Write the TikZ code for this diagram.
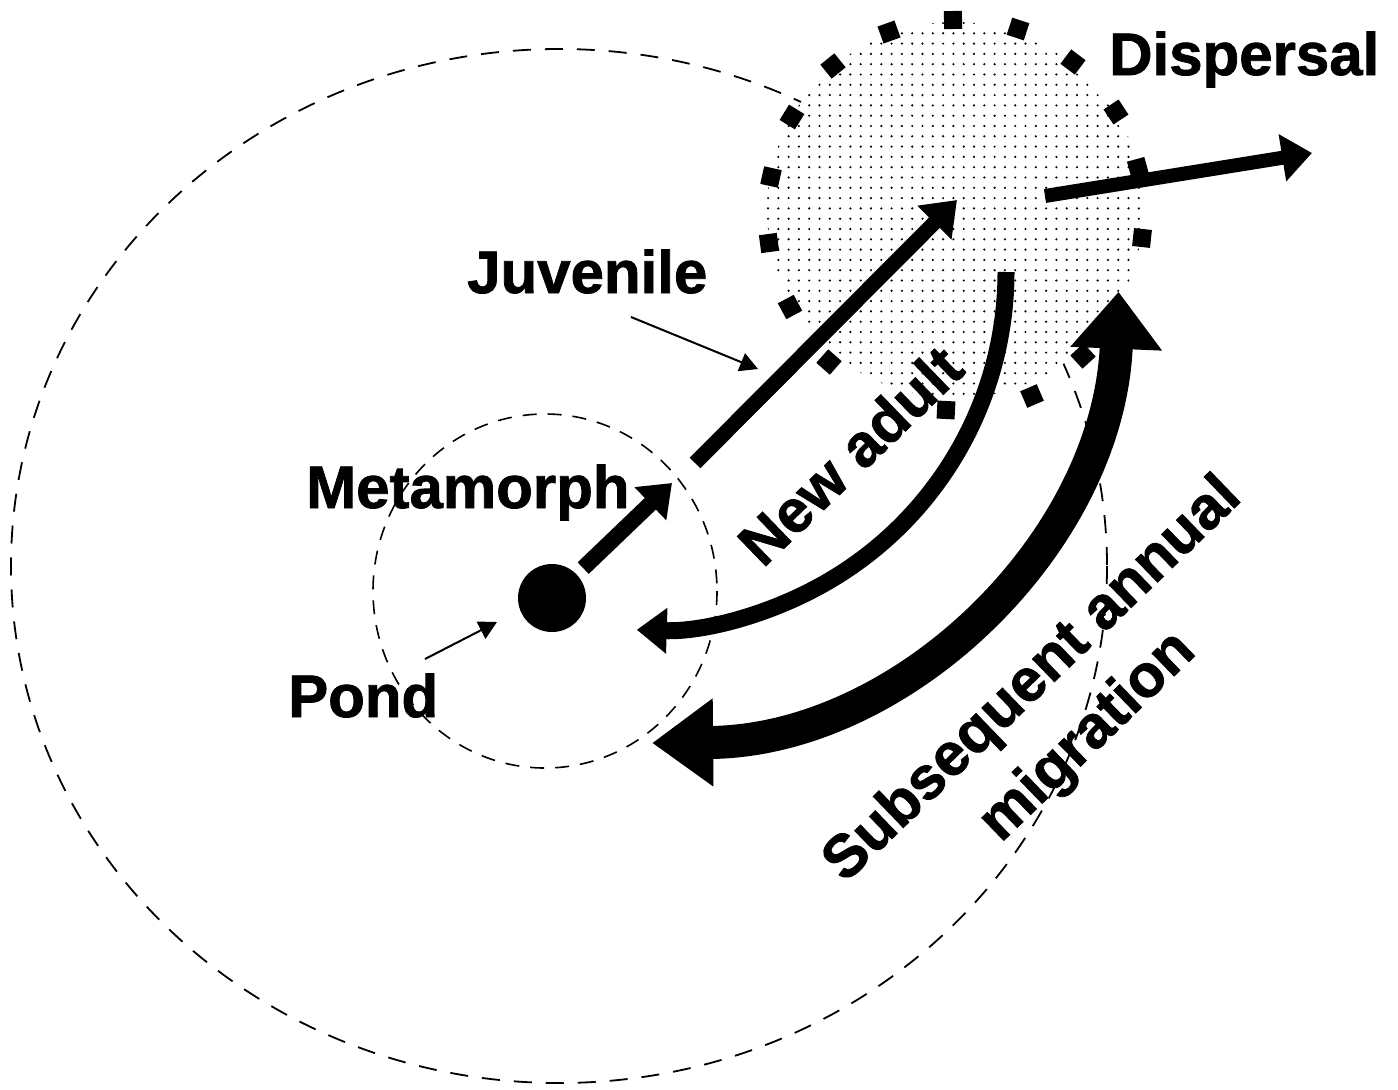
\documentclass[tikz,border=0pt]{standalone}
\usepackage{fontspec}
\setmainfont{Liberation Sans}
\newfontfamily\lblfont{Liberation Sans Bold}[FakeBold=1.3]
\usetikzlibrary{arrows.meta}
\begin{document}
\begin{tikzpicture}[x=1pt,y=-1pt,
  lbl/.style={font=\fontsize{60}{79}\lblfont, inner sep=0pt},
  bigdash/.style={line width=1.8pt, dash pattern=on 18pt off 14pt},
  smalldash/.style={line width=1.6pt, dash pattern=on 14pt off 11pt},
  leader/.style={line width=2pt, -{Triangle[length=18pt,width=19pt]}},
  midarrow/.style={line width=16pt, -{Triangle[length=30pt,width=44pt]}},
  migarrow/.style={line width=33pt, {Triangle[length=61pt,width=84pt]}-{Triangle[length=57pt,width=88pt]}}
]
\useasboundingbox (0,0) rectangle (1398,1090);

% large dashed range
\draw[bigdash] (559,566) ellipse [x radius=548, y radius=517];

% dispersal zone: dotted fill
\begin{scope}
  \clip (955,210) circle [radius=188];
  \fill[white] (760,15) rectangle (1150,405);
  \foreach \i in {0,...,36} {
    \foreach \j in {0,...,36} {
      \fill (768+\i*10.3, 23+\j*10.3) circle [radius=1.2];
    }
  }
\end{scope}
% dispersal zone: square border marks
\foreach \px/\py in {953/20,1018/29,1073/62,1116/112,1138/168,1142/238,1083/356,1032/396,946/410,829/362,790/307,769/243,771/177,792/117,833/66,889/32} {
  \pgfmathsetmacro\ang{atan2(\py-218,\px-956)}
  \fill[rotate around={-\ang:(\px,\py)}] (\px-9,\py-9) rectangle (\px+9,\py+9);
}

% small dashed range
\draw[smalldash] (545,591) ellipse [x radius=172, y radius=177];

% pond
\node[circle, fill=black, minimum size=68pt, inner sep=0pt] (pond) at (552,598) {};

% coordinates
\coordinate (metaTip) at (672,483);
\coordinate (juvS) at (695,463);
\coordinate (juvT) at (957,200);
\coordinate (dispS) at (1045,196);
\coordinate (dispT) at (1312,153);
\coordinate (naS) at (1006,272);
\coordinate (migS) at (652.1,743);
\coordinate (jl1) at (631,317);
\coordinate (jl2) at (758,369);
\coordinate (pl1) at (425,659);
\coordinate (pl2) at (497,622);

% arrows
\draw[midarrow, shorten <=9pt] (pond) -- (metaTip);
\draw[line width=15pt, -{Triangle[length=32pt,width=46pt]}] (juvS) -- (juvT);
\draw[line width=14pt, -{Triangle[length=30pt,width=46pt]}] (dispS) -- (dispT);
\draw[midarrow, line width=17pt] (naS) arc [start angle=0, end angle=91.8, radius=358];
\draw[migarrow] (migS) arc [start angle=89.5, end angle=2.4, radius=471];

% leaders
\draw[leader] (jl1) -- (jl2);
\draw[leader] (pl1) -- (pl2);

% labels
\node[lbl, anchor=base west] (disp) at (1109,75) {Dispersal};
\node[lbl, anchor=base west] (juv) at (467,293) {Juvenile};
\node[lbl, anchor=base west] (meta) at (306,508) {Metamorph};
\node[lbl, anchor=base west] (pondl) at (288,717) {Pond};
\node[lbl, rotate=44] (newad) at (850,455) {New adult};
\node[lbl, rotate=44, align=center] (subs) at (1061,709) {Subsequent annual\\migration};
\end{tikzpicture}
\end{document}
